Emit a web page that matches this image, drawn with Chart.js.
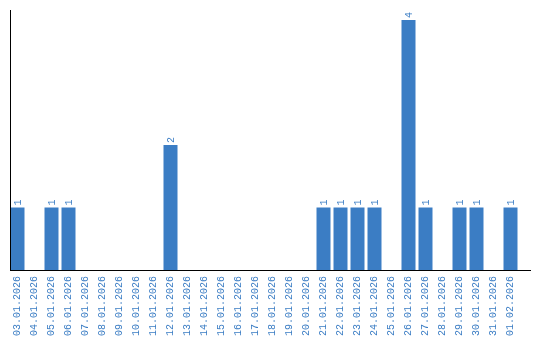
<!DOCTYPE html>
<html>
<head>
<meta charset="utf-8">
<script src="https://cdn.jsdelivr.net/npm/chart.js@4/dist/chart.umd.min.js"></script>
<style>
html,body{margin:0;padding:0;background:#fff;}
#wrap{width:540px;height:340px;}
</style>
</head>
<body>
<div id="wrap"><canvas id="c" width="540" height="340"></canvas></div>
<script>
const categories = ["03.01.2026","04.01.2026","05.01.2026","06.01.2026","07.01.2026","08.01.2026","09.01.2026","10.01.2026","11.01.2026","12.01.2026","13.01.2026","14.01.2026","15.01.2026","16.01.2026","17.01.2026","18.01.2026","19.01.2026","20.01.2026","21.01.2026","22.01.2026","23.01.2026","24.01.2026","25.01.2026","26.01.2026","27.01.2026","28.01.2026","29.01.2026","30.01.2026","31.01.2026","01.02.2026"];
const values = [1,0,1,1,0,0,0,0,0,2,0,0,0,0,0,0,0,0,1,1,1,1,0,4,1,0,1,1,0,1];
const yMax = 4.16;

const BLUE = '#3b7dc4';
const FONT = '"Liberation Mono", "DejaVu Sans Mono", monospace';

const extras = {
  id: 'extras',
  afterDatasetsDraw(chart) {
    const ctx = chart.ctx;
    const meta = chart.getDatasetMeta(0);
    ctx.save();
    ctx.fillStyle = BLUE;
    ctx.font = '10px ' + FONT;
    ctx.textAlign = 'left';
    ctx.textBaseline = 'middle';
    meta.data.forEach((bar, i) => {
      const v = values[i];
      if (!v) return;
      ctx.save();
      ctx.translate(bar.x + 1, bar.y - 2);
      ctx.rotate(-Math.PI / 2);
      ctx.fillText(String(v), 0, 0);
      ctx.restore();
    });
    const a = chart.chartArea;
    ctx.fillStyle = '#000';
    ctx.fillRect(10, a.top, 1, a.bottom - a.top + 1);
    ctx.fillRect(10, a.bottom, 521, 1);
    ctx.restore();
  }
};

new Chart(document.getElementById('c'), {
  type: 'bar',
  data: {
    labels: categories,
    datasets: [{
      data: values,
      backgroundColor: BLUE,
      borderWidth: 0,
      barPercentage: 14/17,
      categoryPercentage: 1
    }]
  },
  options: {
    responsive: false,
    animation: false,
    layout: { padding: { left: 9, right: 21, top: 10, bottom: 0 } },
    plugins: { legend: { display: false }, tooltip: { enabled: false } },
    scales: {
      x: {
        grid: { display: false },
        border: { display: false },
        ticks: {
          color: BLUE,
          font: { family: FONT, size: 10 },
          minRotation: 90,
          maxRotation: 90,
          autoSkip: false,
          padding: -2
        },
        afterFit(scale) { scale.height = 70; }
      },
      y: {
        display: false,
        min: 0,
        max: yMax
      }
    }
  },
  plugins: [extras]
});
</script>
</body>
</html>
